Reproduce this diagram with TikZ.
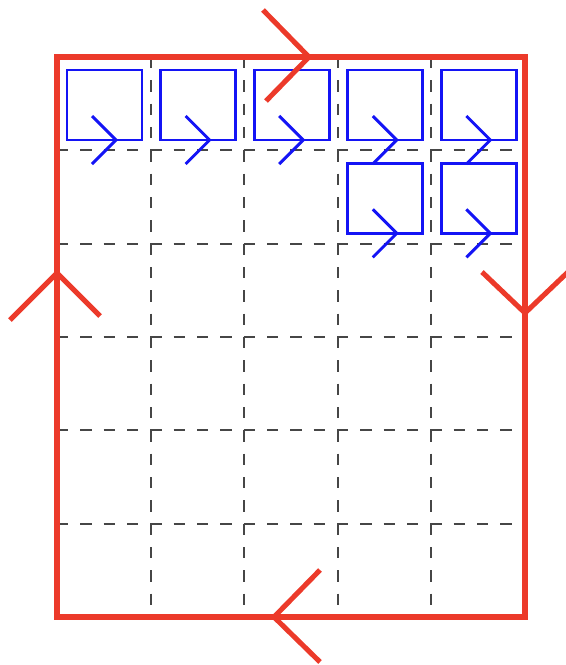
\documentclass[tikz,border=0pt]{standalone}
\usetikzlibrary{calc}
\definecolor{loopred}{RGB}{236,58,42}
\definecolor{loopblue}{RGB}{20,20,245}
\definecolor{gridgray}{RGB}{70,70,70}

\begin{document}
\begin{tikzpicture}[
    x=0.75pt, y=-0.75pt,
    outer/.style={draw=loopred, line width=3.8pt, line join=miter},
    redchev/.style={draw=loopred, line width=3.8pt, line join=miter},
    cellbox/.style={draw=loopblue, line width=2.2pt},
    bluechev/.style={draw=loopblue, line width=2.2pt, line join=miter},
    gridline/.style={draw=gridgray, line width=1.5pt, dash pattern=on 8.5pt off 9pt},
]
\useasboundingbox (0,0) rectangle (566,665);

% frame corners
\coordinate (nw) at (57,57);
\coordinate (se) at (525,617);

% dashed grid, 5 columns x 6 rows
\foreach \c in {1,...,4}
    \draw[gridline] ({57+\c*93.6},57) -- ({57+\c*93.6},617);
\foreach \r in {1,...,5}
    \draw[gridline] (57,{57+\r*93.33}) -- (525,{57+\r*93.33});

% small loops in the cells
\foreach \c/\r in {0/0,1/0,2/0,3/0,4/0,3/1,4/1} {
    \coordinate (bl) at ({57+\c*93.6+10},{57+\r*93.33+83});
    \draw[cellbox] (bl) rectangle ++(75,-70);
    \draw[bluechev] ($(bl)+(25,-24)$) -- ($(bl)+(49,0)$) -- ($(bl)+(25,24)$);
}

% outer loop
\draw[outer] (nw) rectangle (se);

% arrowheads on the outer loop
\coordinate (ttip) at (309,57);
\coordinate (rtip) at (525,313);
\coordinate (btip) at (274,617);
\coordinate (ltip) at (57,273);
\draw[redchev] ($(ttip)+(-46,-47)$) -- (ttip) -- ($(ttip)+(-43,44)$);
\draw[redchev] ($(rtip)+(-43,-41)$) -- (rtip) -- ($(rtip)+(43,-41)$);
\draw[redchev] ($(btip)+(46,-47)$) -- (btip) -- ($(btip)+(46,45)$);
\draw[redchev] ($(ltip)+(-47,47)$) -- (ltip) -- ($(ltip)+(43,43)$);
\end{tikzpicture}
\end{document}
